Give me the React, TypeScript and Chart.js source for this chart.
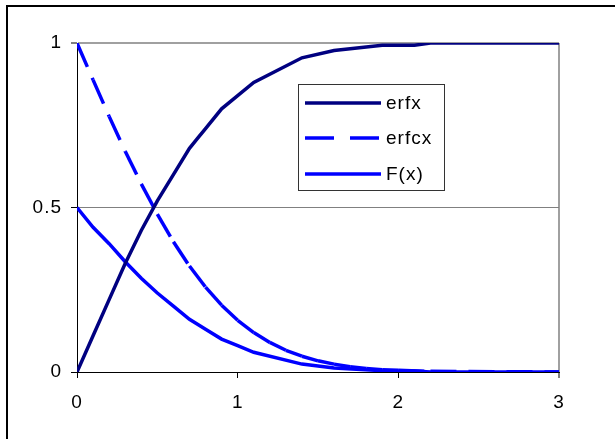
import React, { useEffect, useRef } from "react";
import { Chart, registerables } from "chart.js";

Chart.register(...registerables);

const xValues = [0, 0.1, 0.2, 0.3, 0.4, 0.5, 0.6, 0.7, 0.75, 0.8, 0.9, 1.0, 1.1, 1.4, 1.6, 1.9, 2.1, 2.2, 3.0];
const erfx = [0, 0.11, 0.22, 0.33, 0.43, 0.52, 0.6, 0.68, 0.71, 0.74, 0.8, 0.84, 0.88, 0.955, 0.977, 0.993, 0.993, 1, 1];
const Fx = [0.5, 0.44, 0.39, 0.335, 0.285, 0.24, 0.2, 0.16, 0.145, 0.13, 0.1, 0.08, 0.06, 0.024, 0.012, 0.004, 0.003, 0, 0];
const erfcxX = [0, 0.1, 0.2, 0.3, 0.4, 0.5, 0.6, 0.7, 0.8, 0.9, 1.0, 1.1, 1.2, 1.3, 1.4, 1.5, 1.6, 1.7, 1.8, 1.9, 2.0, 2.2, 3.0];
const erfcx = [1, 0.888, 0.777, 0.671, 0.572, 0.48, 0.396, 0.322, 0.258, 0.203, 0.157, 0.12, 0.09, 0.066, 0.048, 0.034, 0.024, 0.016, 0.011, 0.007, 0.005, 0.002, 0];
const seriesLabels = ["erfx", "erfcx", "F(x)"];
const xTicks = [0, 1, 2, 3];
const yTicks = [0, 0.5, 1];

const FONT = '"Liberation Sans", Arial, sans-serif';
const TICK_SIZE = 19;

Chart.defaults.font.family = FONT;
Chart.defaults.font.size = TICK_SIZE;
Chart.defaults.color = "#000";

const toPoints = (xs: number[], ys: number[]) => ys.map((y, i) => ({ x: xs[i], y }));

const framePlugin = {
  id: "frame",
  beforeDraw(chart: any) {
    const ctx = chart.ctx;
    ctx.save();
    ctx.fillStyle = "#ffffff";
    ctx.fillRect(0, 0, chart.width, chart.height);
    ctx.fillStyle = "#000000";
    ctx.fillRect(6, 5, chart.width - 6, 2);
    ctx.fillRect(6, 5, 2, chart.height - 5);
    ctx.restore();
    try { ctx.letterSpacing = "1px"; } catch (e) {}
  },
};

const boxLegendPlugin = {
  id: "boxLegend",
  afterDraw(chart: any) {
    const ctx = chart.ctx;
    const left = 298, top = 84, right = 444, bottom = 190;
    ctx.save();
    ctx.fillStyle = "#ffffff";
    ctx.fillRect(left, top, right - left, bottom - top);
    ctx.strokeStyle = "#333333";
    ctx.lineWidth = 1;
    ctx.strokeRect(left + 0.5, top + 0.5, right - left, bottom - top);
    const rows = [103, 138, 174];
    chart.data.datasets.forEach((ds: any, i: number) => {
      const y = rows[i];
      ctx.beginPath();
      ctx.strokeStyle = ds.borderColor;
      ctx.lineWidth = ds.borderWidth;
      ctx.setLineDash(ds.borderDash && ds.borderDash.length ? [29, 16] : []);
      ctx.moveTo(305, y);
      ctx.lineTo(381, y);
      ctx.stroke();
      ctx.setLineDash([]);
      ctx.fillStyle = "#000000";
      ctx.font = `19px ${FONT}`;
      ctx.textBaseline = "middle";
      ctx.textAlign = "left";
      try { (ctx as any).letterSpacing = "1px"; } catch (e) {}
      ctx.fillText(ds.label, 386, y + 1);
    });
    ctx.restore();
  },
};

export default function App() {
  const ref = useRef<HTMLCanvasElement | null>(null);
  useEffect(() => {
    document.body.style.margin = "0";
    const canvas = ref.current!;
    const restart = { borderDashOffset: (c: any) => (c.p0DataIndex || 0) * 1e-6 };
    const fmt = (v: any) => String(v);
    const chart = new Chart(canvas, {
      type: "line",
      data: {
        datasets: [
          {
            label: seriesLabels[0],
            data: toPoints(xValues, erfx),
            borderColor: "#000080",
            borderWidth: 3.5,
            pointRadius: 0,
            fill: false,
          },
          {
            label: seriesLabels[1],
            data: toPoints(erfcxX, erfcx),
            borderColor: "#0000ff",
            borderWidth: 3.5,
            borderDash: [26, 12],
            pointRadius: 0,
            fill: false,
            segment: restart,
          },
          {
            label: seriesLabels[2],
            data: toPoints(xValues, Fx),
            borderColor: "#0000ff",
            borderWidth: 3.5,
            pointRadius: 0,
            fill: false,
          },
        ],
      },
      options: {
        animation: false,
        responsive: false,
        devicePixelRatio: 1,
        layout: { padding: { left: 0, top: 43, right: 56, bottom: 0 } },
        plugins: { legend: { display: false }, tooltip: { enabled: false } },
        elements: { line: { tension: 0 } },
        scales: {
          x: {
            type: "linear",
            min: 0,
            max: 3,
            afterBuildTicks: (s: any) => { s.ticks = xTicks.map((v) => ({ value: v })); },
            afterFit: (s: any) => { s.height = 67; },
            ticks: { font: { size: TICK_SIZE, family: FONT }, color: "#000", padding: 13, maxRotation: 0, callback: fmt },
            grid: {
              color: (c: any) => (c.tick && c.tick.value === 3 ? "#a0a0a0" : "rgba(0,0,0,0)"),
              lineWidth: (c: any) => (c.tick && c.tick.value === 3 ? 2 : 1),
              tickColor: "#000",
              tickWidth: 1,
              tickLength: 6,
            },
            border: { color: "#000", width: 1 },
          },
          y: {
            type: "linear",
            min: 0,
            max: 1,
            afterBuildTicks: (s: any) => { s.ticks = yTicks.map((v) => ({ value: v })); },
            afterFit: (s: any) => { s.width = 77; },
            ticks: { font: { size: TICK_SIZE, family: FONT }, color: "#000", padding: 9, callback: fmt },
            grid: {
              color: (c: any) => {
                const v = c.tick ? c.tick.value : null;
                if (v === 1) return "#a0a0a0";
                if (v === 0.5) return "#808080";
                return "rgba(0,0,0,0)";
              },
              lineWidth: (c: any) => (c.tick && c.tick.value === 1 ? 2 : 1),
              tickColor: "#000",
              tickWidth: 1,
              tickLength: 6,
            },
            border: { color: "#000", width: 1 },
          },
        },
      },
      plugins: [framePlugin, boxLegendPlugin],
    } as any);
    return () => chart.destroy();
  }, []);
  return (
    <div style={{ position: "absolute", left: 0, top: 0, width: 615, height: 439 }}>
      <canvas ref={ref} width={615} height={439} style={{ display: "block" }} />
    </div>
  );
}
